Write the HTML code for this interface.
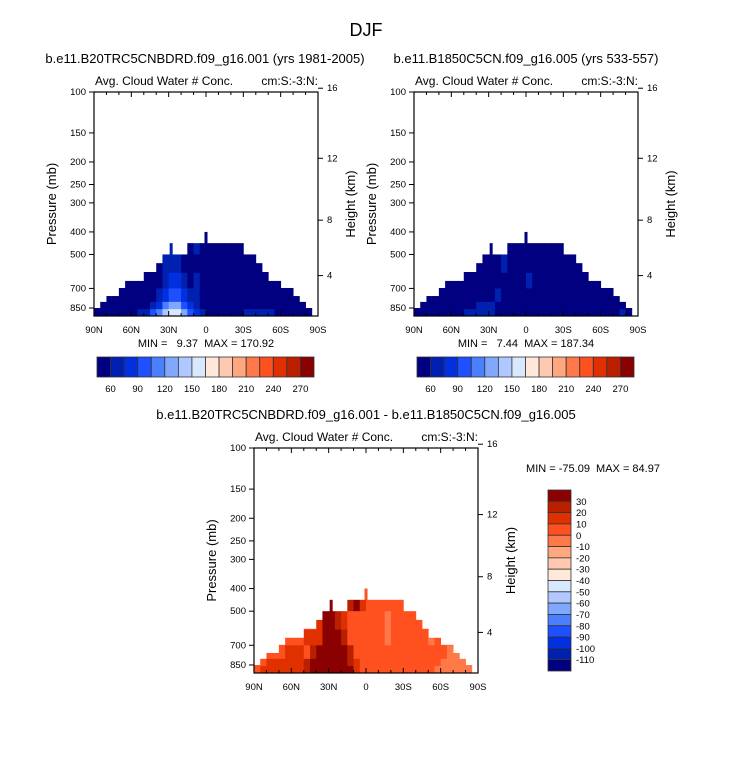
<!DOCTYPE html>
<html><head><meta charset="utf-8"><style>
html,body{margin:0;padding:0;background:#fff;}
svg{display:block;font-family:"Liberation Sans",Arial,sans-serif;}
text{white-space:pre;}
</style></head><body>
<svg id="fig" width="733" height="768" viewBox="0 0 733 768" xmlns="http://www.w3.org/2000/svg">
<text x="366" y="36" font-size="18" text-anchor="middle">DJF</text>
<text x="205" y="63" font-size="13" text-anchor="middle">b.e11.B20TRC5CNBDRD.f09_g16.001 (yrs 1981-2005)</text>
<text x="526" y="63" font-size="13" text-anchor="middle">b.e11.B1850C5CN.f09_g16.005 (yrs 533-557)</text>
<text x="366" y="419" font-size="13" text-anchor="middle">b.e11.B20TRC5CNBDRD.f09_g16.001 - b.e11.B1850C5CN.f09_g16.005</text>
<g id="panels"></g>
</svg>
<script>
// ---- data ----
const palette = ["#000080","#0020b0","#0030e0","#1e50ff","#4a80ff","#80a8ff","#b0c8ff","#d8e8ff","#ffe8d8","#ffc8b0","#ffa880","#ff7848","#ff5020","#e03000","#b82000","#8b0000"];
const levelsAbs = [60,75,90,105,120,135,150,165,180,195,210,225,240,255,270];
const levelsDiff = [-110,-100,-90,-80,-70,-60,-50,-40,-30,-20,-10,0,10,20,30];
const absTickLabels = ["60","90","120","150","180","210","240","270"];
const diffTickLabels = ["30","20","10","0","-10","-20","-30","-40","-50","-60","-70","-80","-90","-100","-110"];
const pressureTicks = [100,150,200,250,300,400,500,700,850];
const heightTicks = [4,8,12,16];
const latTicks = [90,60,30,0,-30,-60,-90];
const latTickLabels = ["90N","60N","30N","0","30S","60S","90S"];
const latBinEdges = [90,85,80,75,70,65,60,55,50,45,40,35,30,25,20,15,10,5,0,-5,-10,-15,-20,-25,-30,-35,-40,-45,-50,-55,-60,-65,-70,-75,-80,-85,-90];
const topPressure = [850,800,755,755,697,650,650,650,595,595,545,500,500,500,500,447,447,447,447,447,447,447,447,447,500,500,545,595,650,650,697,697,755,800,850,1000];
const rowEdges = [400,500,600,700,800,860,920];
const spikes = [{lat:28,p:447},{lat:0,p:400}];
const absField1 = [
 [40,40,40,40,40,40,40,40,40,40,40,40,60,40,40,55,62,40,40,40,40,40,40,40,40,40,40,40,40,40,40,40,40,40,40,40],
 [40,40,40,40,40,40,40,40,40,40,40,62,70,65,50,40,40,40,40,40,40,40,40,40,40,40,40,40,40,40,40,40,40,40,40,40],
 [40,40,40,40,40,40,40,40,40,40,40,68,80,75,62,50,62,45,40,40,40,40,40,40,40,40,40,40,40,40,40,40,40,40,40,40],
 [40,40,40,40,40,40,40,40,40,40,60,80,100,95,75,65,62,50,40,40,40,40,40,40,40,40,40,40,40,40,40,40,40,40,40,40],
 [40,40,40,40,40,40,40,40,55,65,80,105,125,120,100,75,65,55,40,40,40,40,40,40,40,55,55,55,40,40,40,40,40,40,40,40],
 [40,40,40,40,40,40,50,60,70,90,110,135,158,150,125,95,75,60,45,45,45,45,45,50,65,65,65,65,65,50,40,40,40,40,40,40]
];
const absField2 = [
 [40,40,40,40,40,40,40,40,40,40,40,40,40,40,40,40,40,40,40,40,40,40,40,40,40,40,40,40,40,40,40,40,40,40,40,40],
 [40,40,40,40,40,40,40,40,40,40,40,40,40,40,62,40,40,40,40,40,40,40,40,40,40,40,40,40,40,40,40,40,40,40,40,40],
 [40,40,40,40,40,40,40,40,40,40,40,40,40,40,40,40,40,40,62,40,40,40,40,40,40,40,40,40,40,40,40,40,40,40,40,40],
 [40,40,40,40,40,40,40,40,40,40,40,40,40,62,40,40,40,40,40,40,40,40,40,40,40,40,40,40,40,40,40,40,40,40,40,40],
 [40,40,40,40,40,40,40,40,40,40,62,62,62,40,40,40,40,40,40,40,40,40,40,40,40,40,40,40,40,40,40,40,40,40,40,40],
 [40,40,40,40,40,40,40,40,62,62,62,62,62,55,40,40,40,40,40,40,40,40,40,40,40,55,55,55,55,55,55,40,40,62,40,40]
];
const diffField = [
 [5,5,5,5,5,5,5,5,5,5,5,5,35,25,5,25,35,15,5,5,5,5,5,5,5,5,5,5,5,5,5,5,5,5,5,5],
 [5,5,5,5,5,5,5,5,5,5,15,35,35,25,15,5,5,5,5,5,5,-5,5,5,5,5,5,5,5,5,5,5,5,5,5,5],
 [5,5,5,5,5,5,5,5,15,15,15,35,35,35,20,5,5,5,5,5,5,-5,5,5,5,5,5,5,-5,5,5,5,5,5,5,5],
 [5,5,5,5,5,15,15,15,5,20,35,35,35,35,35,20,5,5,5,5,5,5,5,5,5,5,5,5,5,5,5,-5,-5,-5,5,5],
 [5,5,12,12,12,12,12,12,25,35,35,35,35,35,35,25,15,5,5,5,5,5,5,5,5,5,5,5,5,5,-5,-5,-5,-5,-5,5],
 [5,15,15,15,15,15,15,15,25,35,35,35,35,35,35,35,15,5,5,5,5,5,5,5,5,5,5,5,5,-5,-5,-5,-5,-5,-5,5]
];
// ---- drawing ----
const NS="http://www.w3.org/2000/svg";
const root=document.getElementById('panels');
function mk(tag,attrs,parent,text){const e=document.createElementNS(NS,tag);for(const k in attrs)e.setAttribute(k,attrs[k]);if(text!==undefined)e.textContent=text;(parent||root).appendChild(e);return e;}
function colorFor(v,levels){let k=0;while(k<levels.length&&v>=levels[k])k++;return palette[k];}
function heightToP(km){return 1013.25*Math.pow(1-2.2558e-5*km*1000,5.2559);}

function drawPanel(o){
  const g=mk('g',{},root);
  
  
  const L=o.x,T=o.y,W=o.w,H=o.h;
  const xs=lat=>L+(90-lat)/180*W;
  const ys=p=>T+H*Math.log10(p/100)/Math.log10(9.2);
  const fg=mk('g',{},g);
  
  
  for(let r=0;r<rowEdges.length-1;r++){
    for(let c=0;c<topPressure.length;c++){
      const pt=Math.max(rowEdges[r],topPressure[c]);
      const pb=rowEdges[r+1];
      if(pt>=pb)continue;
      const x0=xs(latBinEdges[c]),x1=xs(latBinEdges[c+1]);
      const y0=ys(pt),y1=ys(pb);
      const re=mk('rect',{x:x0.toFixed(2),y:y0.toFixed(2),width:(x1-x0+0.4).toFixed(2),height:(y1-y0+0.4).toFixed(2),fill:colorFor(o.field[r][c],o.levels)},fg);
      
      
    }
  }
  spikes.forEach(s=>{
    const c=latBinEdges.findIndex((e,i)=>i<latBinEdges.length-1&&s.lat<=e&&s.lat>latBinEdges[i+1]);
    const ci=c<0?17:c;
    const sp=mk('rect',{x:(xs(s.lat)-1.5).toFixed(2),y:ys(s.p).toFixed(2),width:3,height:(ys(topPressure[ci])-ys(s.p)+0.5).toFixed(2),fill:colorFor(o.field[0][ci],o.levels)},fg);
    
    
  });
  const fr=mk('rect',{x:L,y:T,width:W,height:H,fill:'none',stroke:'#000','stroke-width':1.2},g);
  
  
  pressureTicks.forEach(p=>{
    const y=ys(p);
    mk('line',{x1:L-5,y1:y,x2:L,y2:y,stroke:'#000'},g);
    const t=mk('text',{x:L-8,y:y+3,'font-size':9.5,'text-anchor':'end'},g,String(p));
    
    
  });
  heightTicks.forEach(h=>{
    const y=ys(heightToP(h));
    mk('line',{x1:L+W,y1:y,x2:L+W+5,y2:y,stroke:'#000'},g);
    const t=mk('text',{x:L+W+9,y:y+3,'font-size':9.5},g,String(h));
    
    
  });
  for(let lat=80;lat>-90;lat-=10){const x=xs(lat);mk('line',{x1:x,y1:T,x2:x,y2:T+(lat%30===0?5:3),stroke:'#000'},g);mk('line',{x1:x,y1:T+H,x2:x,y2:T+H-(lat%30===0?5:3),stroke:'#000'},g);}
  latTicks.forEach((lat,i)=>{
    const t=mk('text',{x:xs(lat),y:T+H+17,'font-size':9.5,'text-anchor':'middle'},g,latTickLabels[i]);
    
    
  });
  const yl=mk('text',{x:0,y:0,'font-size':13,'text-anchor':'middle',transform:`translate(${L-38},${T+H/2}) rotate(-90)`},g,'Pressure (mb)');
  
  
  const yr=mk('text',{x:0,y:0,'font-size':13,'text-anchor':'middle',transform:`translate(${L+W+37},${T+H/2}) rotate(-90)`},g,'Height (km)');
  
  
  const lt=mk('text',{x:L+1,y:T-7,'font-size':12},g,'Avg. Cloud Water # Conc.');
  
  
  const rt=mk('text',{x:L+W,y:T-7,'font-size':12,'text-anchor':'end'},g,'cm:S:-3:N:');
  
  
  if(o.minmax){
    const mm=mk('text',{x:o.minmax.x,y:o.minmax.y,'font-size':11,'text-anchor':o.minmax.anchor},g,o.minmax.text);
    
    
  }
}
function hColorbar(x,y,w,h){
  const g=mk('g',{},root);
  
  
  const bw=w/palette.length;
  palette.forEach((c,i)=>{const r=mk('rect',{x:x+i*bw,y:y,width:bw,height:h,fill:c,stroke:'#333','stroke-width':0.8},g);});
  absTickLabels.forEach((s,i)=>{const t=mk('text',{x:x+(1+2*i)*bw,y:y+h+15,'font-size':9.5,'text-anchor':'middle'},g,s);});
}
function vColorbar(x,y,w,h){
  const g=mk('g',{},root);
  
  
  const bh=h/palette.length;
  palette.slice().reverse().forEach((c,i)=>{const r=mk('rect',{x:x,y:y+i*bh,width:w,height:bh,fill:c,stroke:'#333','stroke-width':0.8},g);});
  diffTickLabels.forEach((s,i)=>{const t=mk('text',{x:x+w+5,y:y+(i+1)*bh+3.5,'font-size':9.5},g,s);});
}
drawPanel({name:'left-panel',x:94,y:92,w:224,h:224,field:absField1,levels:levelsAbs,minmax:{x:206,y:347,anchor:'middle',text:'MIN =   9.37  MAX = 170.92'}});
drawPanel({name:'right-panel',x:414,y:92,w:224,h:224,field:absField2,levels:levelsAbs,minmax:{x:526,y:347,anchor:'middle',text:'MIN =   7.44  MAX = 187.34'}});
drawPanel({name:'diff-panel',x:254,y:448,w:224,h:225,field:diffField,levels:levelsDiff,minmax:{x:593,y:472,anchor:'middle',text:'MIN = -75.09  MAX = 84.97'}});
hColorbar(97,357,217,20);
hColorbar(417,357,217,20);
vColorbar(548,490,23,181);
</script>
</body></html>
